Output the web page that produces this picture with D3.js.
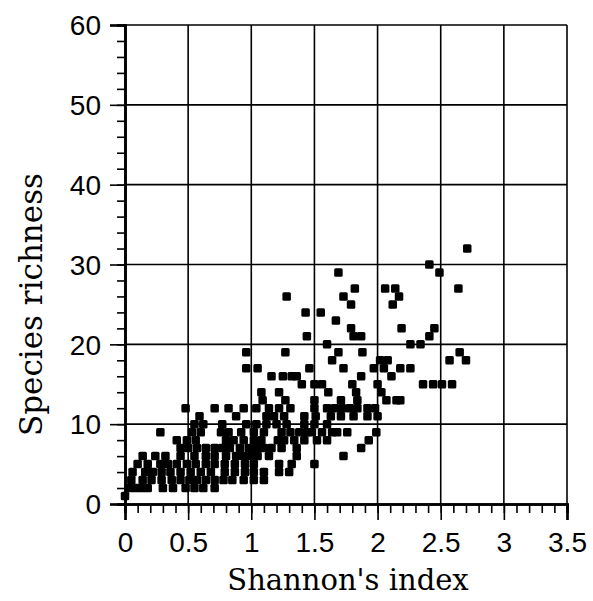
<!DOCTYPE html>
<html>
<head>
<meta charset="utf-8">
<script src="https://cdn.jsdelivr.net/npm/d3@7"></script>
<style>
  body { margin: 0; background: #fff; }
  svg { display: block; }
</style>
</head>
<body>
<div id="chart"></div>
<script>
// species richness (integer) and the Shannon index values seen at each richness
const richness_rows = [1, 2, 3, 4, 5, 6, 7, 8, 9, 10, 11, 12, 13, 14, 15, 16, 17, 18, 19, 20,
    21, 22, 23, 24, 25, 26, 27, 29, 30, 32];
const shannon_rows = [
    [0.00],
    [0.03, 0.08, 0.13, 0.18, 0.30, 0.38, 0.48, 0.55, 0.62, 0.71],
    [0.05, 0.14, 0.21, 0.29, 0.37, 0.44, 0.51, 0.57, 0.64, 0.71, 0.78, 0.85, 0.94, 1.02, 1.10],
    [0.06, 0.16, 0.22, 0.29, 0.36, 0.44, 0.52, 0.60, 0.68, 0.79, 0.87, 0.95, 1.02, 1.10, 1.22, 1.30],
    [0.10, 0.18, 0.28, 0.34, 0.41, 0.49, 0.56, 0.64, 0.71, 0.79, 0.87, 0.95, 1.02, 1.22, 1.32, 1.50],
    [0.14, 0.24, 0.32, 0.44, 0.55, 0.64, 0.71, 0.80, 0.88, 0.94, 1.00, 1.05, 1.14, 1.36, 1.73],
    [0.44, 0.50, 0.57, 0.64, 0.71, 0.77, 0.83, 0.91, 0.98, 1.04, 1.10, 1.16, 1.24, 1.36, 1.87],
    [0.41, 0.49, 0.56, 0.80, 0.86, 0.94, 1.02, 1.08, 1.21, 1.26, 1.34, 1.42, 1.52, 1.60, 1.93],
    [0.28, 0.53, 0.60, 0.76, 0.82, 0.92, 1.02, 1.10, 1.24, 1.31, 1.38, 1.44, 1.48, 1.56, 1.64, 1.68, 1.76, 1.99],
    [0.55, 0.62, 0.77, 0.96, 1.04, 1.12, 1.20, 1.28, 1.42, 1.50, 1.60],
    [0.59, 0.88, 1.12, 1.18, 1.26, 1.42, 1.51, 1.63, 1.71, 1.81, 1.92, 2.00],
    [0.48, 0.71, 0.82, 0.94, 1.04, 1.14, 1.22, 1.31, 1.50, 1.60, 1.66, 1.72, 1.78, 1.84, 1.92, 1.98],
    [1.09, 1.27, 1.50, 1.71, 1.84, 2.07, 2.15, 2.18],
    [1.08, 1.22, 1.61, 1.83, 2.03],
    [1.40, 1.50, 1.56, 1.80, 2.00, 2.36, 2.44, 2.51, 2.59],
    [1.16, 1.25, 1.32, 1.36, 1.87, 2.11],
    [0.96, 1.05, 1.46, 1.73, 1.97, 2.05, 2.18, 2.26],
    [1.64, 2.02, 2.08, 2.57, 2.70],
    [0.96, 1.27, 1.69, 1.88, 2.65],
    [1.60, 2.26, 2.34],
    [1.44, 1.81, 1.87, 2.41],
    [1.79, 2.19, 2.45],
    [1.67],
    [1.43, 1.55],
    [1.79, 2.12],
    [1.28, 1.73, 2.17],
    [1.82, 2.06, 2.14, 2.64],
    [1.69, 2.49],
    [2.41],
    [2.71]
];
const x_ticks = [0, 0.5, 1, 1.5, 2, 2.5, 3, 3.5];
const y_ticks = [0, 10, 20, 30, 40, 50, 60];

let points = [];
richness_rows.forEach((r, i) => {
    shannon_rows[i].forEach(h => points.push({h: h, s: r}));
});

const W = 593, H = 601;
const margin = {top: 25, right: 26, bottom: 97, left: 125},
    width = W - margin.left - margin.right,
    height = H - margin.top - margin.bottom;

const x = d3.scaleLinear().domain([0, 3.5]).range([0, width]);
const y = d3.scaleLinear().domain([0, 60]).range([height, 0]);

const svg = d3.select("#chart").append("svg")
    .attr("width", W).attr("height", H);
const g = svg.append("g")
    .attr("transform", "translate(" + margin.left + "," + margin.top + ")");

// grid
g.selectAll(".vgrid").data(x_ticks.slice(1)).enter().append("line")
    .attr("x1", d => x(d)).attr("x2", d => x(d))
    .attr("y1", 0).attr("y2", height)
    .attr("stroke", "#000").attr("stroke-width", 1.6);
g.selectAll(".hgrid").data(y_ticks.slice(1)).enter().append("line")
    .attr("x1", 0).attr("x2", width)
    .attr("y1", d => y(d)).attr("y2", d => y(d))
    .attr("stroke", "#000").attr("stroke-width", 1.6);

// axes
const xAxis = g.append("g")
    .attr("transform", "translate(0," + height + ")")
    .call(d3.axisBottom(x).tickValues(d3.range(0, 3.51, 0.1)).tickSize(9).tickFormat(""));
xAxis.append("g").call(d3.axisBottom(x).tickValues(x_ticks).tickSize(16).tickFormat(d3.format("")));
const yAxis = g.append("g")
    .call(d3.axisLeft(y).tickValues(d3.range(0, 61, 2)).tickSize(8).tickFormat(""));
yAxis.append("g").call(d3.axisLeft(y).tickValues(y_ticks).tickSize(15).tickFormat(d3.format("")));

svg.selectAll(".domain").attr("stroke", "#000").attr("stroke-width", 2.6);
svg.selectAll(".tick line").attr("stroke", "#000").attr("stroke-width", 1.6);
xAxis.selectAll(".tick text")
    .attr("font-family", "Liberation Sans, Arial, sans-serif")
    .attr("font-size", 28).attr("fill", "#000").attr("dy", 0).attr("y", 48);
yAxis.selectAll(".tick text")
    .attr("font-family", "Liberation Sans, Arial, sans-serif")
    .attr("font-size", 28).attr("fill", "#000").attr("x", -24).attr("dy", "0.35em");

// points
const sz = 8.5;
g.selectAll("rect.pt").data(points).enter().append("rect")
    .attr("class", "pt")
    .attr("x", d => x(d.h) - sz / 2)
    .attr("y", d => y(d.s) - sz / 2)
    .attr("width", sz).attr("height", sz)
    .attr("rx", 1.5)
    .attr("fill", "#000");

// titles
svg.append("text")
    .attr("x", margin.left + width / 2 + 2).attr("y", 590)
    .attr("text-anchor", "middle")
    .attr("font-family", "DejaVu Serif, serif").attr("font-size", 29)
    .text("Shannon's index");
svg.append("text")
    .attr("transform", "translate(42," + (margin.top + height / 2 + 40) + ") rotate(-90)")
    .attr("text-anchor", "middle")
    .attr("font-family", "DejaVu Serif, serif").attr("font-size", 31)
    .text("Species richness");
</script>
</body>
</html>
